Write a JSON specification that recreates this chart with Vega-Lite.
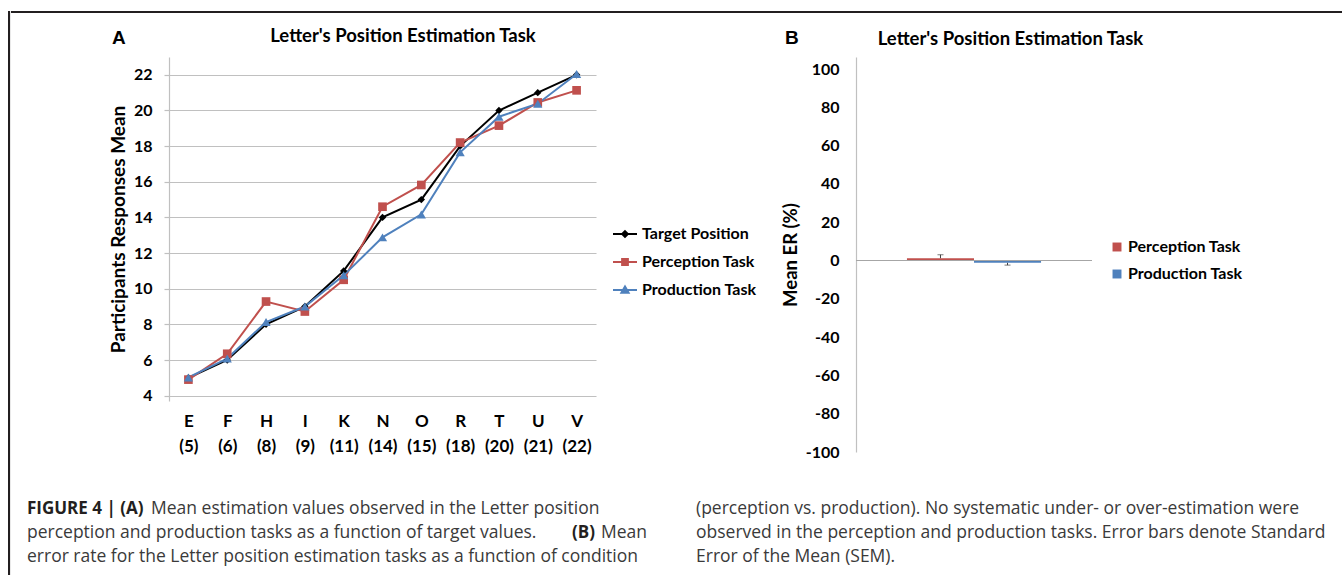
{
  "$schema": "https://vega.github.io/schema/vega-lite/v6.json",
  "background": "white",
  "padding": {"left": 8, "top": 11, "right": 0, "bottom": 0},
  "autosize": {"type": "pad"},
  "config": {"view": {"stroke": null}, "axis": {"labelOverlap": false}, "axisY": {"labelOverlap": false}},
  "datasets": {
    "lettersA": [
      {"cond": "E (5)", "series": "Target Position", "value": 5},
      {"cond": "F (6)", "series": "Target Position", "value": 6},
      {"cond": "H (8)", "series": "Target Position", "value": 8},
      {"cond": "I (9)", "series": "Target Position", "value": 9},
      {"cond": "K (11)", "series": "Target Position", "value": 11},
      {"cond": "N (14)", "series": "Target Position", "value": 14},
      {"cond": "O (15)", "series": "Target Position", "value": 15},
      {"cond": "R (18)", "series": "Target Position", "value": 18},
      {"cond": "T (20)", "series": "Target Position", "value": 20},
      {"cond": "U (21)", "series": "Target Position", "value": 21},
      {"cond": "V (22)", "series": "Target Position", "value": 22},
      {"cond": "E (5)", "series": "Perception Task", "value": 4.9},
      {"cond": "F (6)", "series": "Perception Task", "value": 6.35},
      {"cond": "H (8)", "series": "Perception Task", "value": 9.28},
      {"cond": "I (9)", "series": "Perception Task", "value": 8.72},
      {"cond": "K (11)", "series": "Perception Task", "value": 10.5},
      {"cond": "N (14)", "series": "Perception Task", "value": 14.6},
      {"cond": "O (15)", "series": "Perception Task", "value": 15.82},
      {"cond": "R (18)", "series": "Perception Task", "value": 18.2},
      {"cond": "T (20)", "series": "Perception Task", "value": 19.15},
      {"cond": "U (21)", "series": "Perception Task", "value": 20.45},
      {"cond": "V (22)", "series": "Perception Task", "value": 21.13},
      {"cond": "E (5)", "series": "Production Task", "value": 5.02},
      {"cond": "F (6)", "series": "Production Task", "value": 6.08},
      {"cond": "H (8)", "series": "Production Task", "value": 8.13},
      {"cond": "I (9)", "series": "Production Task", "value": 9.0},
      {"cond": "K (11)", "series": "Production Task", "value": 10.75},
      {"cond": "N (14)", "series": "Production Task", "value": 12.88},
      {"cond": "O (15)", "series": "Production Task", "value": 14.17},
      {"cond": "R (18)", "series": "Production Task", "value": 17.65},
      {"cond": "T (20)", "series": "Production Task", "value": 19.65},
      {"cond": "U (21)", "series": "Production Task", "value": 20.38},
      {"cond": "V (22)", "series": "Production Task", "value": 22.05}
    ],
    "errB": [
      {"series": "Perception Task", "mean": 1.2, "errEnd": 3.0},
      {"series": "Production Task", "mean": -1.2, "errEnd": -2.4}
    ],
    "caption": [
      {"col": 0, "line": 1, "part": "b0", "text": "FIGURE 4 | (A)"},
      {"col": 0, "line": 1, "part": "r1", "text": "Mean estimation values observed in the Letter position"},
      {"col": 0, "line": 2, "part": "r0", "text": "perception and production tasks as a function of target values."},
      {"col": 0, "line": 2, "part": "b2", "text": "(B)"},
      {"col": 0, "line": 2, "part": "r3", "text": "Mean"},
      {"col": 0, "line": 3, "part": "r0", "text": "error rate for the Letter position estimation tasks as a function of condition"},
      {"col": 1, "line": 1, "part": "r0", "text": "(perception vs. production). No systematic under- or over-estimation were"},
      {"col": 1, "line": 2, "part": "r0", "text": "observed in the perception and production tasks. Error bars denote Standard"},
      {"col": 1, "line": 3, "part": "r0", "text": "Error of the Mean (SEM)."}
    ]
  },
  "spacing": 0,
  "hconcat": [
    {"width": 0.1, "height": 562, "data": {"values": []}, "mark": "point", "view": {"stroke": "#231f20", "strokeWidth": 2}},
    {
      "spacing": 12,
      "vconcat": [
        {"width": 1331, "height": 0.1, "data": {"values": []}, "mark": "point", "view": {"stroke": "#231f20", "strokeWidth": 2}},
        {
          "spacing": 0,
          "columns": 4,
          "align": "none",
          "concat": [
            {"width": 97, "height": 0.1, "data": {"values": []}, "mark": "point"},
            {
              "title": {"text": "A", "anchor": "start", "frame": "group", "dx": -57, "offset": -36, "baseline": "alphabetic", "font": "Liberation Sans", "fontSize": 19, "fontWeight": "bold", "color": "#000000"},
              "hconcat": [
                {
                  "width": 427,
                  "height": 344,
                  "title": {"text": "Letter's Position Estimation Task", "anchor": "middle", "frame": "group", "dx": 20.5, "offset": -3, "baseline": "alphabetic", "font": "Lato", "fontSize": 18.5, "fontWeight": "bold", "color": "#000000"},
                  "data": {"name": "lettersA"},
                  "encoding": {
                    "x": {
                      "field": "cond", "type": "nominal",
                      "sort": ["E (5)", "F (6)", "H (8)", "I (9)", "K (11)", "N (14)", "O (15)", "R (18)", "T (20)", "U (21)", "V (22)"],
                      "scale": {"type": "point", "padding": 0.5, "domain": ["E (5)", "F (6)", "H (8)", "I (9)", "K (11)", "N (14)", "O (15)", "R (18)", "T (20)", "U (21)", "V (22)"]},
                      "axis": {"title": null, "domain": false, "ticks": false, "grid": false, "labelAngle": 0, "labelOverlap": false, "labelExpr": "split(datum.value, ' ')", "labelFont": "Lato", "labelFontSize": 17, "labelFontWeight": "bold", "labelColor": "#000000", "labelPadding": 12, "labelLineHeight": 25}
                    },
                    "y": {
                      "field": "value", "type": "quantitative",
                      "scale": {"domain": [3.7, 23], "nice": false, "zero": false},
                      "axis": {"title": "Participants Responses Mean", "values": [4, 6, 8, 10, 12, 14, 16, 18, 20, 22], "labelOverlap": false, "grid": true, "gridColor": "#c0c0c0", "gridWidth": 1.2, "domainColor": "#c0c0c0", "domainWidth": 1.2, "tickColor": "#c0c0c0", "tickSize": 5, "tickWidth": 1.2, "labelFont": "Lato", "labelFontSize": 16, "labelFontWeight": "bold", "labelColor": "#000000", "labelPadding": 12, "titleFont": "Lato", "titleFontSize": 19, "titleFontWeight": "bold", "titleColor": "#000000", "titlePadding": 5}
                    }
                  },
                  "layer": [
                    {
                      "mark": {"type": "line", "strokeWidth": 2},
                      "encoding": {"stroke": {"field": "series", "type": "nominal", "scale": {"domain": ["Target Position", "Perception Task", "Production Task"], "range": ["#000000", "#c0504d", "#4f81bd"]}, "legend": {"orient": "none", "legendX": 603, "legendY": 209, "title": null, "symbolSize": 576, "symbolStrokeWidth": 2, "rowPadding": 7, "labelOffset": 4, "labelFont": "Lato", "labelFontSize": 16, "labelFontWeight": "bold", "labelColor": "#000000"}}}
                    },
                    {
                      "transform": [{"filter": "datum.series === 'Target Position'"}],
                      "mark": {"type": "point", "filled": true, "shape": "diamond", "size": 55, "opacity": 1, "color": "#000000"}
                    },
                    {
                      "transform": [{"filter": "datum.series === 'Perception Task'"}],
                      "mark": {"type": "point", "filled": true, "shape": "square", "size": 75, "opacity": 1, "color": "#c0504d"}
                    },
                    {
                      "transform": [{"filter": "datum.series === 'Production Task'"}],
                      "mark": {"type": "point", "filled": true, "shape": "triangle-up", "size": 85, "opacity": 1, "color": "#4f81bd"}
                    },
                    {
                      "data": {"values": []},
                      "mark": {"type": "point", "filled": true, "opacity": 1, "strokeWidth": 2},
                      "encoding": {
                        "fill": {"field": "series", "type": "nominal", "scale": {"domain": ["Target Position", "Perception Task", "Production Task"], "range": ["#000000", "#c0504d", "#4f81bd"]}, "legend": {"orient": "none", "legendX": 603, "legendY": 209, "title": null, "symbolSize": 576, "symbolStrokeWidth": 2, "rowPadding": 7, "labelOffset": 4, "labelFont": "Lato", "labelFontSize": 16, "labelFontWeight": "bold", "labelColor": "#000000"}},
                        "stroke": {"field": "series", "type": "nominal", "legend": {"orient": "none", "legendX": 603, "legendY": 209, "title": null, "symbolSize": 576, "symbolStrokeWidth": 2, "rowPadding": 7, "labelOffset": 4, "labelFont": "Lato", "labelFontSize": 16, "labelFontWeight": "bold", "labelColor": "#000000"}},
                        "shape": {"field": "series", "type": "nominal", "scale": {"domain": ["Target Position", "Perception Task", "Production Task"], "range": ["M-1,0H1M0,-0.24L0.24,0L0,0.24L-0.24,0Z", "M-1,0H1M-0.24,-0.24H0.24V0.24H-0.24Z", "M-1,0H1M0,-0.3L0.3,0.22H-0.3Z"]}, "legend": {"orient": "none", "legendX": 603, "legendY": 209, "title": null, "symbolSize": 576, "symbolStrokeWidth": 2, "rowPadding": 7, "labelOffset": 4, "labelFont": "Lato", "labelFontSize": 16, "labelFontWeight": "bold", "labelColor": "#000000"}}
                      }
                    }
                  ]
                }
              ]
            },
            {"width": 185, "height": 0.1, "data": {"values": []}, "mark": "point"},
            {
              "title": {"text": "B", "anchor": "start", "frame": "group", "dx": -71, "offset": -32.5, "baseline": "alphabetic", "font": "Liberation Sans", "fontSize": 19, "fontWeight": "bold", "color": "#000000"},
              "vconcat": [
                {
                  "width": 236,
                  "height": 395,
                  "title": {"text": "Letter's Position Estimation Task", "anchor": "middle", "frame": "group", "dx": 36.5, "offset": -6.5, "baseline": "alphabetic", "font": "Lato", "fontSize": 18.5, "fontWeight": "bold", "color": "#000000"},
                  "data": {"name": "errB"},
                  "encoding": {
                    "y": {"field": "mean", "type": "quantitative", "scale": {"domain": [-100, 106.27], "nice": false}, "axis": {"title": "Mean ER (%)", "values": [-100, -80, -60, -40, -20, 0, 20, 40, 60, 80, 100], "labelOverlap": false, "labelExpr": "'' + datum.value", "grid": false, "ticks": false, "domain": true, "domainColor": "#c0c0c0", "domainWidth": 1.2, "labelFont": "Lato", "labelFontSize": 16, "labelFontWeight": "bold", "labelColor": "#000000", "labelPadding": 17, "titleFont": "Lato", "titleFontSize": 18.5, "titleFontWeight": "bold", "titleColor": "#000000", "titlePadding": 5}}
                  },
                  "layer": [
                    {
                      "mark": {"type": "bar"},
                      "encoding": {
                        "x": {"field": "series", "type": "nominal", "scale": {"type": "band", "paddingInner": 0, "paddingOuter": 0.76, "domain": ["Perception Task", "Production Task"]}, "axis": null},
                        "color": {"field": "series", "type": "nominal", "scale": {"domain": ["Perception Task", "Production Task"], "range": ["#c0504d", "#4f81bd"]}, "legend": {"orient": "none", "legendX": 1100, "legendY": 227, "title": null, "symbolType": "square", "symbolSize": 80, "rowPadding": 11, "labelOffset": 3, "labelFont": "Lato", "labelFontSize": 16, "labelFontWeight": "bold", "labelColor": "#000000"}}
                      }
                    },
                    {
                      "mark": {"type": "rule", "color": "#a6a6a6", "strokeWidth": 1.2},
                      "encoding": {"y": {"datum": 0, "type": "quantitative"}}
                    },
                    {
                      "mark": {"type": "rule", "color": "#404040", "strokeWidth": 1},
                      "encoding": {
                        "x": {"field": "series", "type": "nominal"},
                        "y2": {"field": "errEnd"}
                      }
                    },
                    {
                      "mark": {"type": "tick", "color": "#404040", "size": 6, "thickness": 1},
                      "encoding": {
                        "x": {"field": "series", "type": "nominal"},
                        "y": {"field": "errEnd", "type": "quantitative"}
                      }
                    }
                  ]
                }
              ]
            }
          ]
        },
        {
          "width": 1331,
          "height": 90,
          "data": {"name": "caption"},
          "encoding": {
            "x": {"field": "col", "type": "quantitative", "scale": {"domain": [0, 1], "range": [15, 684], "nice": false, "zero": false}, "axis": null},
            "y": {"field": "line", "type": "quantitative", "scale": {"domain": [1, 3], "range": [41.5, 89.5], "nice": false, "zero": false}, "axis": null},
            "text": {"field": "text"}
          },
          "layer": [
            {"transform": [{"filter": "datum.part === 'r0'"}], "mark": {"type": "text", "align": "left", "baseline": "alphabetic", "font": "Open Sans", "fontSize": 17.5, "color": "#3a3a3a"}},
            {"transform": [{"filter": "datum.part === 'b0'"}], "mark": {"type": "text", "align": "left", "baseline": "alphabetic", "font": "Open Sans", "fontSize": 17, "fontWeight": "bold", "color": "#231f20"}},
            {"transform": [{"filter": "datum.part === 'r1'"}], "mark": {"type": "text", "align": "left", "baseline": "alphabetic", "font": "Open Sans", "fontSize": 17.5, "color": "#3a3a3a", "dx": 124}},
            {"transform": [{"filter": "datum.part === 'b2'"}], "mark": {"type": "text", "align": "left", "baseline": "alphabetic", "font": "Open Sans", "fontSize": 17, "fontWeight": "bold", "color": "#231f20", "dx": 545}},
            {"transform": [{"filter": "datum.part === 'r3'"}], "mark": {"type": "text", "align": "left", "baseline": "alphabetic", "font": "Open Sans", "fontSize": 17.5, "color": "#3a3a3a", "dx": 574}}
          ]
        }
      ]
    }
  ]
}
